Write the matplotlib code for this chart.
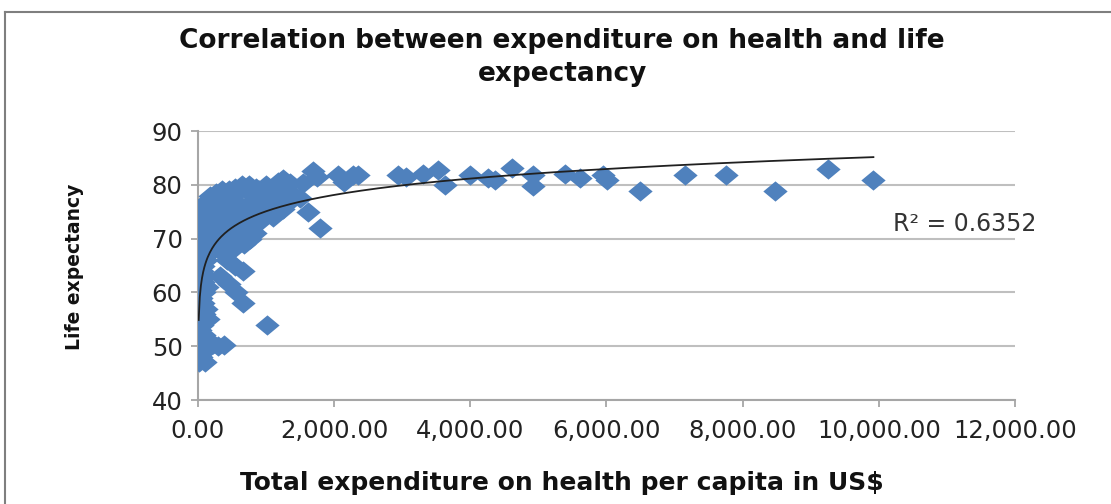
import numpy as np
import matplotlib
matplotlib.use('Agg')
import matplotlib.pyplot as plt
from matplotlib.lines import Line2D

# health spend per capita (US$) and life expectancy
spend = [10, 12, 14, 15, 17, 18, 20, 22, 24, 25, 27, 28, 30, 32, 34, 35, 37, 38, 40, 42,
         44, 45, 47, 48, 50, 52, 54, 55, 57, 58, 60,
         62, 65, 68, 70, 72, 75, 78, 80, 82, 85, 88, 90, 92, 95, 98, 100, 104, 108, 110,
         112, 115, 118, 120, 125, 130, 135, 140, 145, 150, 155, 160,
         220, 300, 380, 300, 420, 540, 665, 330, 450, 560, 665,
         170, 190, 200, 220, 240, 260, 260, 280, 300, 320, 340, 350, 360, 380, 400, 420,
         440, 450, 460, 480, 500, 520, 540, 550, 560, 580, 600, 620, 620, 640, 650, 660,
         680, 700, 700, 720, 740, 750, 760, 780, 800, 820, 840, 850, 860, 880, 900, 900,
         950, 960, 1000, 1020, 1050, 1080, 1100, 1150, 1180, 1200, 1250, 1250, 1300, 1350,
         1350, 1420, 1500, 1547, 1620, 1690, 1743, 1792, 1010,
         2061, 2150, 2282, 2355, 2942, 3050, 3310, 3530, 3628, 3995, 4264, 4363, 4617,
         4925, 4925, 5391, 5611, 5954, 6003, 6492, 7150, 7750, 8470, 9250, 9920]
life = [54, 48, 58, 51, 62, 47, 56, 65, 50, 60, 68, 53, 71, 57, 63, 49, 74, 66, 52, 59,
        70, 55, 73, 61, 48, 67, 64, 75, 57, 69, 51,
        72, 54, 62, 76, 58, 65, 49, 70, 74, 56, 67, 60, 73, 52, 76, 63, 69, 47, 71,
        57, 75, 66, 50, 73, 61, 77, 68, 55, 74, 72, 76,
        50.5, 50, 50.2, 68, 66, 65, 64, 63, 61.5, 60, 58,
        78, 70, 74, 76, 68, 72, 78.5, 71, 75, 69, 77, 79, 72, 73, 70, 76,
        71.5, 79, 78, 73, 74, 68, 77, 79.5, 72, 75, 70, 79, 71.5, 75, 80, 73,
        69, 76, 72.5, 74, 79, 80, 70, 72, 75, 78, 71, 79.5, 75, 77, 79, 73,
        77, 74, 80, 78, 76, 79, 74, 78, 80.5, 80, 81, 75.6, 79, 77,
        80.3, 78, 77.5, 80.3, 75, 82.5, 81.5, 72, 53.9,
        81.8, 80.5, 81.8, 81.8, 81.8, 81.5, 82.1, 82.8, 80, 81.8, 81.2, 80.9, 83.1,
        81.8, 79.8, 82.1, 81.2, 81.8, 80.9, 78.8, 81.9, 81.9, 78.8, 82.9, 80.9]

x_ticks = [0, 2000, 4000, 6000, 8000, 10000, 12000]
y_ticks = [40, 50, 60, 70, 80, 90]
r2_label = 'R² = 0.6352'

x = np.array(spend, dtype=float)
y = np.array(life, dtype=float)

# logarithmic trendline like the spreadsheet one
a, b = np.polyfit(np.log(x), y, 1)
tx = np.linspace(x.min(), x.max(), 600)
ty = a * np.log(tx) + b

blue = '#4F81BD'
grid = '#BFBFBF'
diamond = [(-1.2, 0), (0, 1), (1.2, 0), (0, -1), (-1.2, 0)]

fig = plt.figure(figsize=(11.11, 5.04), dpi=100)
ax = fig.add_axes([0.1782, 0.2063, 0.7354, 0.5337])

ax.scatter(x, y, marker=diamond, s=17.5 ** 2, color=blue, linewidths=0, zorder=3)
ax.plot(tx, ty, color='#202020', lw=1.3, zorder=4)

ax.set_xlim(0, 12000)
ax.set_ylim(40, 90)
ax.set_xticks(x_ticks)
ax.set_yticks(y_ticks)
ax.set_xticklabels(['{:,.2f}'.format(v) for v in x_ticks])
ax.yaxis.grid(True, color=grid, lw=1.5)
ax.set_axisbelow(True)
for s in ['top', 'right']:
    ax.spines[s].set_visible(False)
for s in ['left', 'bottom']:
    ax.spines[s].set_color('#A6A6A6')
    ax.spines[s].set_linewidth(1.5)
ax.tick_params(axis='both', direction='out', length=5, width=1.3, color='#A6A6A6',
               labelsize=17.5, labelcolor='#222222')
ax.tick_params(axis='x', pad=9)
ax.tick_params(axis='y', pad=6)

fig.text(893 / 1111, 1 - 224 / 504, r2_label, fontsize=17, color='#333333',
         va='center', ha='left')

fig.text(0.506, 1 - 28 / 504, 'Correlation between expenditure on health and life\nexpectancy',
         ha='center', va='top', fontsize=19, fontweight='bold', linespacing=1.35, color='#111111')
fig.text(0.506, 1 - 483 / 504, 'Total expenditure on health per capita in US$',
         ha='center', va='center', fontsize=18, fontweight='bold', color='#111111')
fig.text(75 / 1111, 1 - 267 / 504, 'Life expectancy', rotation=90,
         ha='center', va='center', fontsize=13.5, fontweight='bold', color='#111111')

# chart area border (runs off the right and bottom edges)
fig.add_artist(Line2D([5 / 1111, 5 / 1111], [0, 1 - 12 / 504], color='#7F7F7F', lw=1.5))
fig.add_artist(Line2D([5 / 1111, 1], [1 - 12 / 504, 1 - 12 / 504], color='#7F7F7F', lw=1.5))

fig.savefig('out.png', dpi=100)
